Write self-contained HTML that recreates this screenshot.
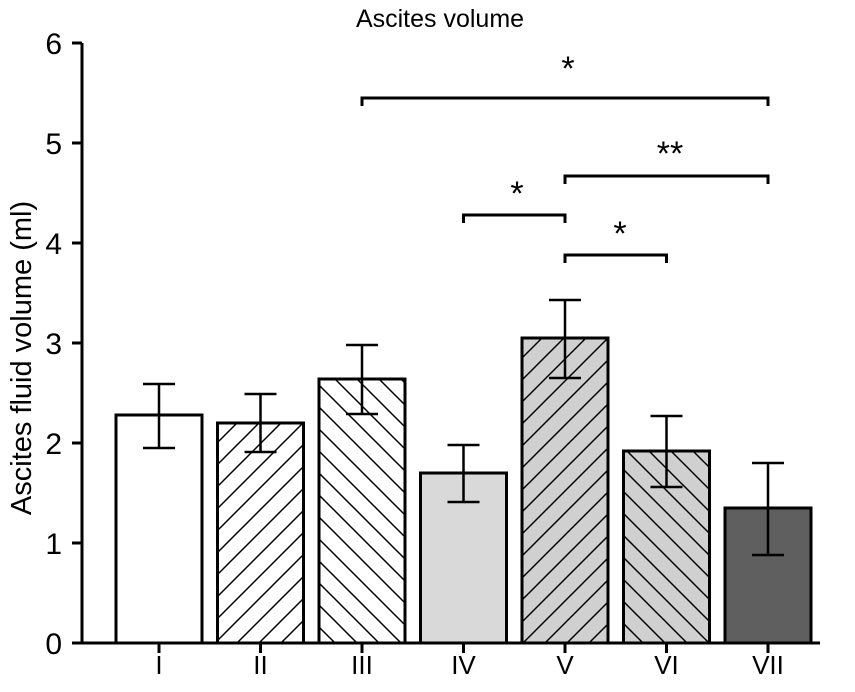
<!DOCTYPE html>
<html><head><meta charset="utf-8"><style>
body{margin:0;background:#fff;}
svg text{font-family:"Liberation Sans",Arial,sans-serif;fill:#000;}
</style></head><body>
<svg id="chart" width="855" height="687" viewBox="0 0 855 687">
<defs>
<pattern id="hf" width="22" height="22" patternUnits="userSpaceOnUse"><rect width="22" height="22" fill="#fff"/><path d="M-5,27 L27,-5 M-16,16 L16,-16 M6,38 L38,6" stroke="#000" stroke-width="1.5"/></pattern>
<pattern id="hb" width="22" height="22" patternUnits="userSpaceOnUse"><rect width="22" height="22" fill="#fff"/><path d="M-5,-5 L27,27 M-16,6 L16,38 M6,-16 L38,16" stroke="#000" stroke-width="1.5"/></pattern>
<pattern id="hfg" width="22" height="22" patternUnits="userSpaceOnUse"><rect width="22" height="22" fill="#d0d0d0"/><path d="M-5,27 L27,-5 M-16,16 L16,-16 M6,38 L38,6" stroke="#000" stroke-width="1.5"/></pattern>
<pattern id="hbg" width="22" height="22" patternUnits="userSpaceOnUse"><rect width="22" height="22" fill="#d0d0d0"/><path d="M-5,-5 L27,27 M-16,6 L16,38 M6,-16 L38,16" stroke="#000" stroke-width="1.5"/></pattern>
</defs>
<text x="440" y="27" style="font-size:25px" text-anchor="middle">Ascites volume</text>
<text transform="translate(31,358) rotate(-90)" style="font-size:29px" text-anchor="middle">Ascites fluid volume (ml)</text>
<g id="axes"></g><g id="bars"></g><g id="sig"></g>
</svg>
<script>
const categories=["I","II","III","IV","V","VI","VII"];
const means=[2.28,2.2,2.64,1.7,3.05,1.92,1.35];
const errLow=[1.95,1.91,2.29,1.41,2.65,1.56,0.88];
const errHigh=[2.59,2.49,2.98,1.98,3.43,2.27,1.80];
const fills=["#fff","url(#hf)","url(#hb)","#d9d9d9","url(#hfg)","url(#hbg)","#5f5f5f"];
const yTicks=[0,1,2,3,4,5,6];
const sigFrom=[2,3,4,4];
const sigTo=[6,4,6,5];
const sigY=[5.45,4.28,4.67,3.88];
const sigLabel=["*","*","**","*"];
const sigLabelY=[5.85,4.6,5.0,4.2];
const sigLabelX=[568,517,670,620];

const NS="http://www.w3.org/2000/svg";
const y=v=>643-v*100;
const x=i=>159+i*101.5;
const bw=86;
function mk(t,a,p){const e=document.createElementNS(NS,t);for(const k in a)e.setAttribute(k,a[k]);p.appendChild(e);return e;}
const ax=document.getElementById('axes'),bg=document.getElementById('bars'),sg=document.getElementById('sig');
let l=mk('line',{x1:82,x2:82,y1:y(6),y2:y(0),stroke:'#000','stroke-width':3},ax);


l=mk('line',{x1:81,x2:820,y1:y(0),y2:y(0),stroke:'#000','stroke-width':3},ax);


yTicks.forEach(t=>{
 mk('line',{x1:72,x2:82,y1:y(t),y2:y(t),stroke:'#000','stroke-width':3},ax);
 const tx=mk('text',{x:62,y:y(t)+11,style:'font-size:30px','text-anchor':'end'},ax);tx.textContent=t;
 
 
});
categories.forEach((c,i)=>{
 mk('line',{x1:x(i),x2:x(i),y1:y(0),y2:y(0)+10,stroke:'#000','stroke-width':3},ax);
 const tx=mk('text',{x:x(i),y:674,style:'font-size:26px','text-anchor':'middle'},ax);tx.textContent=c;
 
 
 const r=mk('rect',{x:x(i)-bw/2,y:y(means[i]),width:bw,height:y(0)-y(means[i]),fill:fills[i],stroke:'#000','stroke-width':3},bg);
 
 
 const g=mk('g',{stroke:'#000','stroke-width':2.5},bg);
 
 
 mk('line',{x1:x(i),x2:x(i),y1:y(errLow[i]),y2:y(errHigh[i])},g);
 mk('line',{x1:x(i)-16,x2:x(i)+16,y1:y(errLow[i]),y2:y(errLow[i])},g);
 mk('line',{x1:x(i)-16,x2:x(i)+16,y1:y(errHigh[i]),y2:y(errHigh[i])},g);
});
sigFrom.forEach((f,k)=>{
 const g=mk('g',{stroke:'#000','stroke-width':3,fill:'none'},sg);
 
 
 const yy=y(sigY[k]);
 mk('path',{d:`M${x(f)},${yy+8} V${yy} H${x(sigTo[k])} V${yy+8}`},g);
 const t=mk('text',{x:sigLabelX[k],y:y(sigLabelY[k])+22,style:'font-size:34px','text-anchor':'middle'},sg);
 t.textContent=sigLabel[k];
 
 
});
</script>
</body></html>
